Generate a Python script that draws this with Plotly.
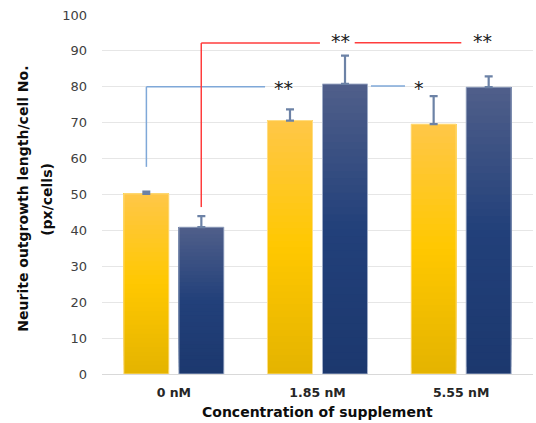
import plotly.graph_objects as go

categories = ["0 nM", "1.85 nM", "5.55 nM"]
series_a = [50.2, 70.6, 69.6]
series_a_err = [0.6, 3.1, 7.8]
series_b = [40.9, 80.8, 79.9]
series_b_err = [3.1, 7.9, 3.0]
y_ticks = [0, 10, 20, 30, 40, 50, 60, 70, 80, 90, 100]

FONT = "DejaVu Sans"
N = 40

def lerp(c1, c2, t):
    return tuple(int(round(a + (b - a) * t)) for a, b in zip(c1, c2))

def grad(stops, t):
    for (p1, c1), (p2, c2) in zip(stops[:-1], stops[1:]):
        if p1 <= t <= p2:
            return "rgb(%d,%d,%d)" % lerp(c1, c2, (t - p1) / (p2 - p1))
    return "rgb(%d,%d,%d)" % stops[-1][1]

yellow_stops = [(0.0, (228, 179, 0)), (0.5, (255, 200, 0)), (1.0, (255, 199, 72))]
blue_stops = [(0.0, (28, 56, 110)), (0.5, (34, 64, 122)), (1.0, (80, 95, 138))]

fig = go.Figure()
for name, vals, stops in [("A", series_a, yellow_stops), ("B", series_b, blue_stops)]:
    for k in range(N):
        t = (k + 0.5) / N
        fig.add_trace(go.Bar(
            x=categories, y=[v * (1 - k / N) for v in vals], base=[v * k / N for v in vals],
            offsetgroup=name, marker=dict(color=grad(stops, t), line=dict(width=0)),
            showlegend=False, hoverinfo="skip"))

for name, vals, errs, lc in [("A", series_a, series_a_err, "rgba(255,224,140,0.9)"),
                              ("B", series_b, series_b_err, "rgba(170,182,206,0.9)")]:
    fig.add_trace(go.Bar(
        x=categories, y=vals, offsetgroup=name, name=name,
        marker=dict(color="rgba(0,0,0,0)", line=dict(color=lc, width=1)),
        error_y=dict(type="data", array=errs, arrayminus=[0] * len(errs), symmetric=False,
                     color="#6c82a6", thickness=2.2, width=4),
        showlegend=False))

BLUE = "#7fa8d8"
RED = "#ff3c3c"
shapes = []
def seg(x0, y0, x1, y1, c):
    shapes.append(dict(type="line", xref="x", yref="y", x0=x0, y0=y0, x1=x1, y1=y1,
                       line=dict(color=c, width=1.5)))
seg(-0.191, 57.7, -0.191, 80.0, BLUE)
seg(-0.191, 80.0, 0.635, 80.0, BLUE)
seg(1.372, 80.2, 1.609, 80.2, BLUE)
seg(0.191, 46.5, 0.191, 92.2, RED)
seg(0.191, 92.2, 1.017, 92.2, RED)
seg(1.259, 92.3, 2.001, 92.3, RED)

annotations = []
def star(x, y, s):
    annotations.append(dict(x=x, y=y, xref="x", yref="y", text=s, showarrow=False,
                            font=dict(family=FONT, size=19, color="#1a1a1a")))
star(0.76, 79.6, "**")
star(1.706, 79.6, "*")
star(1.157, 92.7, "**")
star(2.145, 92.7, "**")

annotations.append(dict(x=-0.184, y=0.4875, xref="paper", yref="paper", xanchor="center", yanchor="middle",
                        text="<b>Neurite outgrowth length/cell No.</b>", textangle=-90,
                        showarrow=False, font=dict(family=FONT, size=14, color="#0d0d0d")))
annotations.append(dict(x=-0.128, y=0.4875, xref="paper", yref="paper", xanchor="center", yanchor="middle",
                        text="<b>(px/cells)</b>", textangle=-90,
                        showarrow=False, font=dict(family=FONT, size=14, color="#0d0d0d")))
annotations.append(dict(x=0.5, y=-0.105, xref="paper", yref="paper", xanchor="center", yanchor="middle",
                        text="<b>Concentration of supplement</b>", showarrow=False,
                        font=dict(family=FONT, size=14, color="#0d0d0d")))

fig.update_layout(
    width=536, height=423,
    margin=dict(l=102, r=3, t=15, b=49),
    paper_bgcolor="white", plot_bgcolor="white",
    barmode="group", bargap=0.234, bargroupgap=0.182,
    shapes=shapes, annotations=annotations,
    font=dict(family=FONT, color="#404040"),
)
fig.update_xaxes(type="category", range=[-0.5, 2.5], showgrid=False, showline=False,
                 ticks="", tickfont=dict(family=FONT, size=12.5, color="#262626", weight="bold"),
                 ticklabelstandoff=9)
fig.update_yaxes(range=[0, 100], tickvals=y_ticks, showgrid=True, gridcolor="#e6e6e6", gridwidth=1,
                 zeroline=True, zerolinecolor="#d9d9d9", zerolinewidth=1, showline=False, ticks="",
                 tickfont=dict(family=FONT, size=13, color="#404040"), ticklabelstandoff=14)

fig.write_html("out.html", config={"displayModeBar": False},
               post_script="document.body.style.margin='0';document.body.style.overflow='hidden';")
